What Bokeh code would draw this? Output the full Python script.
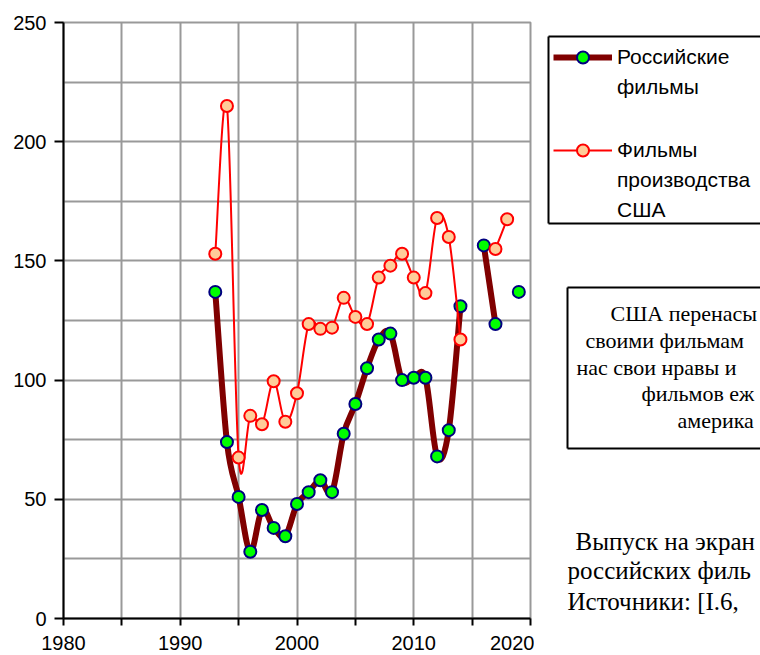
import math
from bokeh.plotting import figure
from bokeh.layouts import row
from bokeh.models import (Range1d, FixedTicker, Legend, LegendItem, Label,
                          ColumnDataSource)
from bokeh.embed import file_html
from bokeh.resources import INLINE

nan = float("nan")

# ---- data ----
years = list(range(1993, 2020))
russian = [137, 74, 51, 28, 45.5, 38, 34.5, 48, 53, 58, 53, 77.5, 90, 105,
           117, 119.5, 100, 101, 101, 68, 79, 131, nan, 156.5, 123.5, nan, 137]
usa = [153, 215, 67.5, 85, 81.5, 99.5, 82.5, 94.5, 123.5, 121.5, 122, 134.5,
       126.5, 123.5, 143, 148, 153, 143, 136.5, 168, 160, 117, nan, nan,
       155, 167.5, nan]

x_ticks = [1980, 1985, 1990, 1995, 2000, 2005, 2010, 2015, 2020]
x_tick_labels = ["1980", "", "1990", "", "2000", "", "2010", "", "2020"]
y_ticks = [0, 50, 100, 150, 200, 250]
y_minor_ticks = [25, 75, 125, 175, 225]

ru_label_lines = ["Российские", "фильмы"]
us_label_lines = ["Фильмы", "производства", "США"]
box_lines = ["США перенасы", "своими фильмам", "нас свои нравы и",
             "фильмов еж", "америка"]
note_lines = ["Выпуск на экран", "российских филь", "Источники: [I.6,"]


def runs(xs, ys):
    out, cur = [], []
    for x, y in zip(xs, ys):
        if y is None or (isinstance(y, float) and math.isnan(y)):
            if cur:
                out.append(cur)
            cur = []
        else:
            cur.append((x, y))
    if cur:
        out.append(cur)
    return out


def smooth_segments(xs, ys):
    cols = {k: [] for k in ["x0", "y0", "x1", "y1", "cx0", "cy0", "cx1", "cy1"]}
    for r in runs(xs, ys):
        n = len(r)
        for i in range(n - 1):
            p0 = r[i - 1] if i > 0 else r[i]
            p1 = r[i]
            p2 = r[i + 1]
            p3 = r[i + 2] if i + 2 < n else r[i + 1]
            cols["x0"].append(p1[0]); cols["y0"].append(p1[1])
            cols["x1"].append(p2[0]); cols["y1"].append(p2[1])
            cols["cx0"].append(p1[0] + (p2[0] - p0[0]) / 6.0)
            cols["cy0"].append(p1[1] + (p2[1] - p0[1]) / 6.0)
            cols["cx1"].append(p2[0] - (p3[0] - p1[0]) / 6.0)
            cols["cy1"].append(p2[1] - (p3[1] - p1[1]) / 6.0)
    return ColumnDataSource(cols)


SANS = "Liberation Sans"
SERIF = "Liberation Serif"
GRID = "#999999"
RU_LINE, RU_FILL, RU_EDGE = "#800000", "#00FF00", "#000080"
US_LINE, US_FILL, US_EDGE = "#FF0000", "#FFCC99", "#FF0000"

W, H = 760, 655
FL, FR, FT, FB = 63, 530, 22, 618
LEFT_W = 534

p = figure(width=LEFT_W, height=H, x_range=Range1d(1980, 2020),
           y_range=Range1d(0, 250), output_backend="svg",
           toolbar_location=None, min_border_left=FL,
           min_border_right=LEFT_W - FR, min_border_top=FT,
           min_border_bottom=H - FB)
p.outline_line_color = GRID
p.outline_line_width = 2

p.xaxis.ticker = FixedTicker(ticks=x_ticks)
p.xaxis.major_label_overrides = {t: l for t, l in zip(x_ticks, x_tick_labels)}
p.yaxis.ticker = FixedTicker(ticks=y_ticks, minor_ticks=y_minor_ticks)
for ax in (p.xaxis, p.yaxis):
    ax.axis_line_color = "black"
    ax.axis_line_width = 2
    ax.major_tick_line_color = "black"
    ax.major_tick_line_width = 2
    ax.major_tick_in = 0
    ax.minor_tick_in = 0
    ax.minor_tick_out = 0
    ax.major_label_text_font = SANS
    ax.major_label_text_font_size = "20px"
    ax.major_label_text_color = "black"
p.xaxis.major_tick_out = 7
p.xaxis.major_label_standoff = 10
p.yaxis.major_tick_out = 9
p.yaxis.major_label_standoff = 8

p.xgrid.grid_line_color = GRID
p.xgrid.grid_line_width = 2
p.ygrid.grid_line_color = GRID
p.ygrid.grid_line_width = 2
p.ygrid.minor_grid_line_color = GRID
p.ygrid.minor_grid_line_width = 2

# Russian films
p.bezier("x0", "y0", "x1", "y1", "cx0", "cy0", "cx1", "cy1",
         source=smooth_segments(years, russian),
         line_color=RU_LINE, line_width=6, line_cap="round")
p.scatter([x for x, y in zip(years, russian) if not math.isnan(y)],
          [y for y in russian if not math.isnan(y)],
          size=12, fill_color=RU_FILL, line_color=RU_EDGE, line_width=2)

# US films
p.bezier("x0", "y0", "x1", "y1", "cx0", "cy0", "cx1", "cy1",
         source=smooth_segments(years, usa),
         line_color=US_LINE, line_width=2, line_cap="round")
p.scatter([x for x, y in zip(years, usa) if not math.isnan(y)],
          [y for y in usa if not math.isnan(y)],
          size=12, fill_color=US_FILL, line_color=US_EDGE, line_width=2)

# ---- right-hand panel: legend and notes (pixel coordinates) ----
q = figure(width=W - LEFT_W, height=H, x_range=Range1d(LEFT_W, W),
           y_range=Range1d(FB, FT), output_backend="svg", toolbar_location=None,
           x_axis_type=None, y_axis_type=None, min_border_left=0,
           min_border_right=0, min_border_top=FT, min_border_bottom=H - FB)
q.outline_line_color = None
q.grid.visible = False


def open_frame(left, top, bottom, right=800):
    # frame whose right side runs past the window edge, as in the original
    q.quad(left=[left], right=[right], top=[top], bottom=[bottom],
           fill_color="white", line_color=None)
    q.segment(x0=[left, left, left], y0=[top, top, bottom],
              x1=[right, left, right], y1=[top, bottom, bottom],
              line_color="black", line_width=2)


open_frame(548, 36, 223)
open_frame(567, 287, 448)

ru_l = q.line(x=[nan], y=[nan], line_color=RU_LINE, line_width=6)
ru_m = q.scatter(x=[nan], y=[nan], size=12, fill_color=RU_FILL,
                 line_color=RU_EDGE, line_width=2)
us_l = q.line(x=[nan], y=[nan], line_color=US_LINE, line_width=2)
us_m = q.scatter(x=[nan], y=[nan], size=12, fill_color=US_FILL,
                 line_color=US_EDGE, line_width=2)

ITEM_H = 30


def make_legend(lines, rends, top):
    items = [LegendItem(label=lines[0], renderers=rends)]
    items += [LegendItem(label=t, renderers=[]) for t in lines[1:]]
    h = ITEM_H * len(lines)
    lg = Legend(items=items, location=(553 - LEFT_W, (FB - FT) - (top - FT) - h))
    lg.margin = 0
    lg.padding = 0
    lg.spacing = 0
    lg.border_line_color = None
    lg.background_fill_alpha = 0
    lg.glyph_width = 59
    lg.glyph_height = ITEM_H
    lg.label_height = ITEM_H
    lg.label_standoff = 5
    lg.label_text_font = SANS
    lg.label_text_font_size = "21px"
    lg.label_text_color = "black"
    return lg


q.add_layout(make_legend(ru_label_lines, [ru_l, ru_m], 42))
q.add_layout(make_legend(us_label_lines, [us_l, us_m], 135))

box_x = [610, 585, 576, 641, 677]
box_base = [313, 340, 366.5, 393, 419.5]
for t, bx, by in zip(box_lines, box_x, box_base):
    q.add_layout(Label(x=bx, y=by, text=t, text_font=SERIF,
                       text_font_size="22px", text_baseline="alphabetic",
                       text_color="black"))

note_x = [575, 567, 567]
note_base = [541, 570, 601]
for t, bx, by in zip(note_lines, note_x, note_base):
    q.add_layout(Label(x=bx, y=by, text=t, text_font=SERIF,
                       text_font_size="25px", text_baseline="alphabetic",
                       text_color="black"))

layout = row(p, q, spacing=0)
open("out.html", "w").write(file_html(layout, INLINE))
